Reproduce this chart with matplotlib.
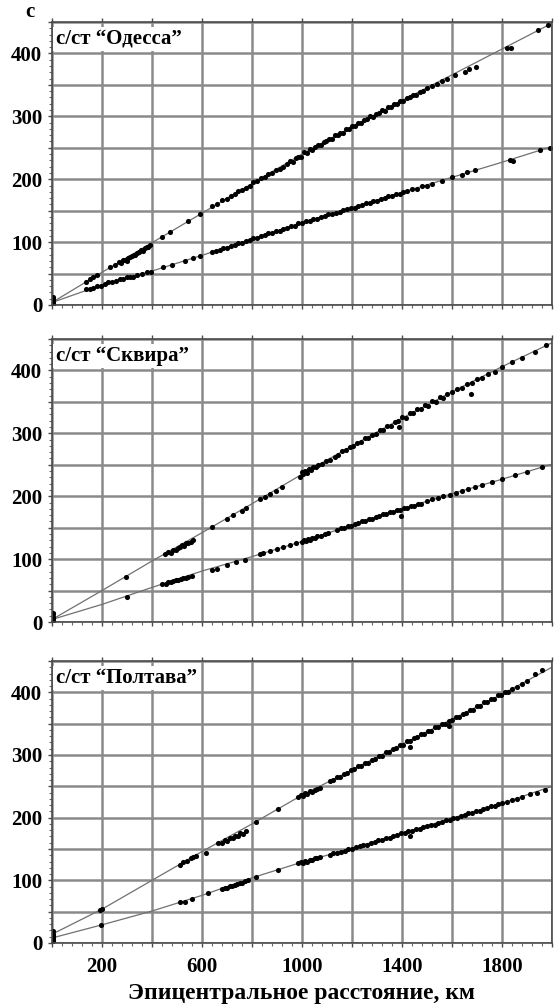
import numpy as np
import matplotlib
matplotlib.use('Agg')
import matplotlib.pyplot as plt
from matplotlib.ticker import MultipleLocator, FuncFormatter

plt.rcParams['font.family'] = ['Liberation Serif', 'DejaVu Serif']
plt.rcParams['font.weight'] = 'bold'

# Годографы (сглаженные кривые) для каждой станции
curve_dist = [0, 200, 400, 600, 800, 1000, 1200, 1400, 1600, 1800, 2000]
odessa_s_curve = [4, 52, 99, 146, 193, 240, 283, 325, 366, 407, 448]
odessa_p_curve = [4, 32, 54, 79, 105, 131, 155, 179, 203, 227, 252]
skvira_s_curve = [4, 50, 97, 142, 188, 235, 280, 324, 366, 406, 444]
skvira_p_curve = [4, 28, 55, 81, 104, 128, 154, 180, 204, 227, 251]
poltava_s_curve = [14, 54, 100, 146, 190, 236, 276, 317, 357, 397, 440]
poltava_p_curve = [8, 29, 51, 76, 104, 129, 151, 175, 199, 223, 250]

# Наблюденные времена вступлений (расстояние, км; время, с)
odessa_s_pts = [
    (2, 3), (4, 8), (3, 12), (5, 6),
    (135, 37), (150, 41), (165, 44), (178, 48),
    (232, 60), (250, 63), (268, 68), (275, 66), (282, 71), (290, 72), (298, 70), (305, 75),
    (312, 76), (320, 78), (326, 80), (332, 79), (340, 83), (348, 84), (355, 87), (362, 86),
    (370, 90), (378, 92), (385, 93), (392, 96),
    (440, 108), (470, 116), (545, 134), (590, 144),
    (640, 158), (660, 160), (680, 167), (700, 169), (715, 173), (730, 176), (745, 181),
    (760, 183), (775, 186), (790, 190), (805, 195), (820, 197), (835, 202), (850, 203),
    (865, 208), (880, 210), (895, 214), (910, 217), (925, 219),
    (940, 224), (952, 229), (963, 228), (975, 233), (985, 236), (996, 236), (1008, 243),
    (1018, 242), (1030, 248), (1040, 247), (1052, 251), (1063, 254), (1075, 254),
    (1086, 259), (1097, 260), (1108, 264), (1120, 264), (1131, 270), (1142, 270),
    (1153, 274), (1165, 274), (1176, 280), (1188, 280), (1200, 284), (1212, 285),
    (1224, 290), (1236, 290), (1248, 294), (1260, 295), (1272, 300), (1284, 299),
    (1296, 304), (1308, 305), (1320, 310), (1332, 309), (1344, 315), (1356, 315),
    (1368, 320), (1380, 319), (1392, 325), (1405, 325), (1418, 329), (1430, 330),
    (1443, 334), (1456, 334), (1470, 339), (1485, 340), (1500, 345), (1520, 348),
    (1540, 352), (1560, 356), (1578, 360),
    (1610, 366), (1650, 370), (1668, 376), (1695, 379), (1820, 409), (1835, 408),
    (1945, 437), (1985, 446),
]
odessa_p_pts = [
    (2, 2), (4, 6), (3, 10),
    (135, 25), (150, 26), (165, 27), (180, 30), (195, 31), (210, 34), (225, 36), (240, 37),
    (255, 38), (270, 41), (285, 41), (300, 44), (310, 44), (325, 45), (340, 48), (360, 50),
    (380, 52), (395, 53),
    (445, 60), (480, 63), (530, 70), (565, 75), (590, 78),
    (640, 84), (655, 86), (670, 88), (685, 90), (700, 91), (715, 94), (730, 95), (745, 98),
    (760, 99), (775, 102), (790, 103), (805, 106), (820, 107), (835, 110), (850, 111),
    (865, 114), (880, 115), (895, 118), (910, 118), (925, 121), (940, 122), (955, 125),
    (970, 126), (985, 130), (1000, 130), (1015, 133), (1030, 134), (1045, 137),
    (1060, 137), (1075, 140), (1090, 141), (1105, 144), (1120, 144), (1135, 147),
    (1150, 148), (1165, 151), (1180, 152), (1195, 155), (1210, 155), (1225, 158),
    (1240, 159), (1255, 162), (1270, 162), (1285, 165), (1300, 166), (1315, 169),
    (1330, 170), (1345, 173), (1360, 173), (1375, 177), (1390, 177), (1405, 180),
    (1420, 181), (1440, 184), (1460, 185), (1480, 189), (1500, 190), (1520, 193),
    (1560, 197), (1600, 203), (1640, 206), (1660, 212), (1690, 214), (1830, 230),
    (1845, 229), (1950, 246), (1990, 250),
]

skvira_s_pts = [
    (2, 3), (3, 8), (4, 12), (2, 15),
    (295, 72),
    (450, 108), (465, 112), (475, 110), (485, 115), (495, 114), (505, 118), (512, 119),
    (520, 122), (528, 121), (535, 125), (545, 126), (555, 128), (565, 130),
    (640, 151), (700, 163), (725, 170), (760, 176), (775, 181),
    (830, 195), (850, 198), (870, 204), (895, 209), (920, 215),
    (990, 231), (998, 238), (1005, 236), (1012, 240), (1020, 237), (1028, 243),
    (1036, 241), (1045, 246), (1055, 246), (1065, 249), (1080, 252), (1095, 256),
    (1110, 257),
    (1130, 263), (1145, 266), (1160, 272), (1175, 273), (1190, 278), (1205, 280),
    (1220, 285), (1235, 287), (1250, 292), (1265, 293), (1280, 298), (1295, 299),
    (1310, 305), (1325, 306), (1340, 311), (1355, 312), (1370, 318), (1385, 319),
    (1400, 326), (1415, 325), (1430, 332), (1445, 332), (1460, 338), (1475, 338),
    (1490, 345), (1505, 344), (1520, 351), (1535, 350), (1550, 357), (1565, 356),
    (1580, 363), (1600, 365), (1620, 371), (1640, 372), (1660, 379), (1680, 380),
    (1700, 386), (1720, 388), (1745, 394), (1770, 398), (1800, 406),
    (1675, 362), (1386, 310),
    (1840, 413), (1880, 420), (1930, 430), (1975, 440),
]
skvira_p_pts = [
    (2, 2), (3, 6),
    (300, 40),
    (440, 60), (455, 61), (465, 63), (475, 63), (485, 65), (495, 66), (505, 67), (515, 68),
    (525, 70), (535, 70), (545, 72), (560, 73),
    (640, 83), (660, 84), (700, 90), (735, 95), (770, 99),
    (830, 108), (845, 110), (870, 113), (900, 116), (925, 119), (950, 122), (975, 125),
    (1000, 128), (1008, 131), (1015, 129), (1022, 132), (1030, 131), (1040, 134),
    (1050, 133), (1060, 136), (1075, 137), (1090, 140), (1105, 141),
    (1140, 146), (1154, 149), (1168, 150), (1182, 153), (1196, 153), (1210, 156),
    (1224, 157), (1238, 160), (1252, 160), (1266, 163), (1280, 164), (1294, 167),
    (1308, 168), (1322, 171), (1336, 171), (1350, 175), (1364, 175), (1378, 178),
    (1392, 178), (1406, 182), (1420, 182), (1434, 185), (1448, 185), (1462, 188),
    (1476, 188), (1394, 168),
    (1500, 192), (1520, 195), (1545, 197), (1565, 200), (1590, 202), (1615, 205),
    (1640, 209), (1665, 211), (1690, 214), (1720, 218), (1760, 222), (1800, 227),
    (1850, 233), (1900, 239), (1960, 246),
]

poltava_s_pts = [
    (2, 5), (3, 10), (4, 15), (2, 19), (5, 12),
    (190, 52), (200, 55),
    (510, 125), (525, 129), (540, 131), (555, 135), (565, 137), (575, 139),
    (615, 144),
    (665, 159), (678, 160), (690, 164), (700, 163), (712, 168), (722, 167), (732, 171),
    (742, 171), (752, 175), (762, 174), (775, 178),
    (815, 193), (905, 214),
    (985, 233), (995, 236), (1003, 235), (1012, 239), (1020, 238), (1030, 242),
    (1040, 241), (1050, 244), (1060, 245), (1070, 247),
    (1110, 259), (1124, 260), (1138, 265), (1152, 265), (1166, 270), (1180, 271),
    (1194, 276), (1208, 277), (1222, 282), (1236, 282), (1250, 287), (1264, 287),
    (1278, 292), (1292, 293), (1306, 298), (1320, 299), (1334, 304), (1348, 305),
    (1362, 310), (1376, 311), (1390, 316), (1404, 316), (1418, 322), (1432, 322),
    (1446, 327), (1460, 328), (1474, 333), (1488, 333), (1502, 339), (1516, 339),
    (1530, 344), (1544, 344), (1558, 350), (1572, 350), (1586, 355), (1600, 356),
    (1614, 361), (1628, 361), (1642, 366), (1656, 367), (1670, 372), (1684, 372),
    (1698, 378), (1712, 378), (1726, 384), (1740, 384), (1754, 389), (1768, 389),
    (1782, 395), (1796, 395), (1810, 400), (1825, 401), (1840, 406), (1860, 409),
    (1880, 414), (1900, 418), (1930, 430), (1960, 436),
    (1433, 313), (1587, 346),
]
poltava_p_pts = [
    (2, 3), (3, 7), (4, 11),
    (195, 29),
    (510, 65), (530, 66), (560, 71),
    (625, 80),
    (680, 86), (690, 88), (700, 88), (710, 91), (720, 91), (730, 93), (740, 94), (750, 96),
    (760, 96), (770, 99), (785, 100),
    (815, 106), (905, 117),
    (985, 127), (995, 129), (1003, 128), (1012, 131), (1020, 130), (1030, 133),
    (1040, 132), (1050, 135), (1060, 135), (1070, 138),
    (1110, 141), (1125, 143), (1140, 144), (1155, 146), (1170, 147), (1185, 150),
    (1200, 150), (1215, 153), (1230, 154), (1245, 156), (1260, 157), (1275, 160),
    (1290, 161), (1305, 164), (1320, 164), (1335, 167), (1350, 168), (1365, 171),
    (1380, 172), (1395, 175), (1410, 175), (1425, 178), (1440, 179), (1455, 182),
    (1470, 182), (1485, 185), (1500, 186), (1515, 189), (1530, 189), (1545, 192),
    (1560, 193), (1575, 196), (1590, 196), (1605, 200), (1620, 200), (1635, 203),
    (1650, 204), (1665, 207), (1680, 207), (1695, 211), (1710, 211), (1725, 214),
    (1740, 215), (1755, 218), (1770, 219), (1785, 222), (1800, 223), (1820, 225),
    (1840, 228), (1860, 230), (1880, 233), (1910, 237), (1940, 240), (1970, 244),
    (1433, 171),
]

titles = ['с/ст “Одесса”', 'с/ст “Сквира”', 'с/ст “Полтава”']
xlabel = 'Эпицентральное расстояние, км'

W, H = 557, 1008
# пиксельные границы панелей (верх, низ)
panel_rows = [(22, 305), (339, 622), (661, 943)]
left_px, right_px = 52, 552


def ylabels(v, pos):
    return f'{int(round(v))}' if round(v) % 100 == 0 else ''


def xlabels(v, pos):
    v = int(round(v))
    return f'{v}' if v > 0 and (v - 200) % 400 == 0 else ''


def draw_panel(ax, title, s_curve, p_curve, s_pts, p_pts, show_x):
    ax.set_xlim(0, 2000)
    ax.set_ylim(0, 450)
    ax.xaxis.set_major_locator(MultipleLocator(200))
    ax.xaxis.set_minor_locator(MultipleLocator(40))
    ax.yaxis.set_major_locator(MultipleLocator(50))
    ax.yaxis.set_minor_locator(MultipleLocator(10))
    ax.yaxis.set_major_formatter(FuncFormatter(ylabels))
    ax.xaxis.set_major_formatter(FuncFormatter(xlabels))
    ax.grid(True, which='major', color='#8a8a8a', linewidth=1.8)
    ax.set_axisbelow(True)
    for sp in ax.spines.values():
        sp.set_color('#4a4a4a')
        sp.set_linewidth(1.2)
        sp.set_zorder(6)
    ax.tick_params(which='major', direction='out', length=3, width=1.0, color='#4a4a4a',
                   top=True, labelsize=15, pad=4)
    ax.tick_params(which='minor', direction='out', length=2, width=0.8, color='#6a6a6a')
    ax.tick_params(axis='x', labelbottom=show_x, pad=7)
    for lab in ax.get_xticklabels() + ax.get_yticklabels():
        lab.set_fontweight('bold')

    ax.plot(curve_dist, s_curve, color='#707070', linewidth=0.9, zorder=2)
    ax.plot(curve_dist, p_curve, color='#707070', linewidth=0.9, zorder=2)
    for pts in (s_pts, p_pts):
        arr = np.array(pts)
        ax.plot(arr[:, 0], arr[:, 1], 'o', markersize=3.7, color='black',
                markeredgewidth=0, zorder=3)

    ax.text(14, 423, title, ha='left', va='center', fontsize=15, fontweight='bold',
            bbox=dict(facecolor='white', edgecolor='none', pad=1.5), zorder=5)


fig = plt.figure(figsize=(W / 100, H / 100), dpi=100)
panel_data = [
    (odessa_s_curve, odessa_p_curve, odessa_s_pts, odessa_p_pts),
    (skvira_s_curve, skvira_p_curve, skvira_s_pts, skvira_p_pts),
    (poltava_s_curve, poltava_p_curve, poltava_s_pts, poltava_p_pts),
]
for i, ((top, bot), data) in enumerate(zip(panel_rows, panel_data)):
    ax = fig.add_axes([left_px / W, 1 - bot / H, (right_px - left_px) / W, (bot - top) / H])
    draw_panel(ax, titles[i], *data, show_x=(i == 2))

fig.text(30 / W, 1 - 12 / H, 'с', ha='center', va='center', fontsize=15, fontweight='bold')
fig.text((left_px + right_px) / 2 / W, 1 - 993 / H, xlabel, ha='center', va='center',
         fontsize=17, fontweight='bold')

fig.savefig('out.png', dpi=100, facecolor='white')
